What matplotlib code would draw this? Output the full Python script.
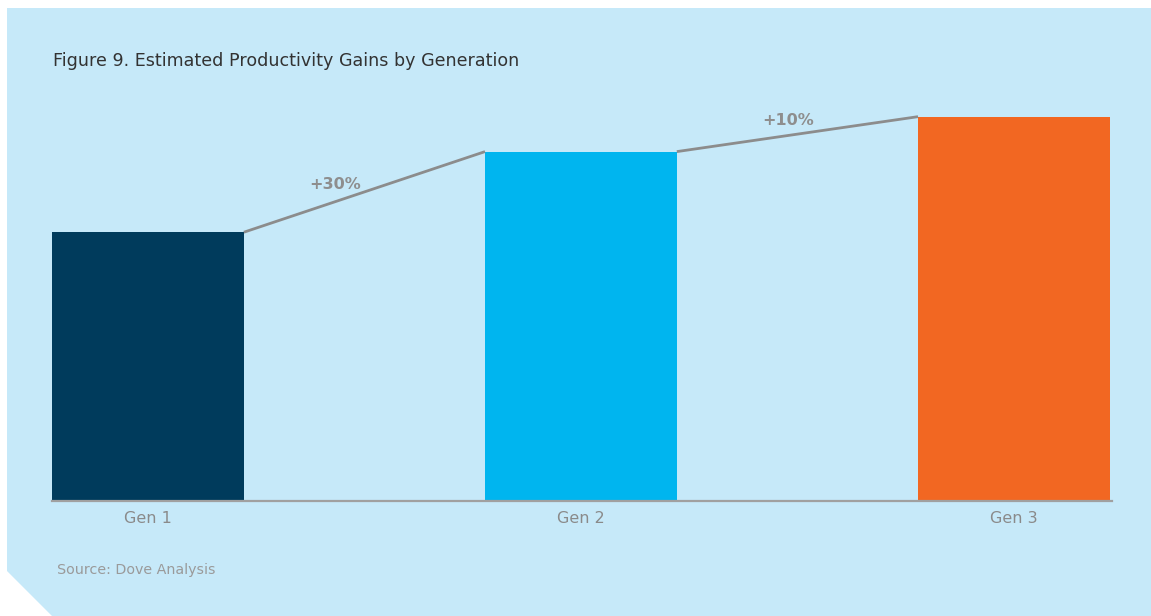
import matplotlib.pyplot as plt
from matplotlib.patches import Polygon

# Relative productivity by generation (Gen 1 = 100)
generations = ["Gen 1", "Gen 2", "Gen 3"]
productivity = [100, 130, 143]
gain_labels = ["+30%", "+10%"]
bar_colors = ["#003B5C", "#00B5EF", "#F26722"]

FONT = "DejaVu Sans"
W, H = 1151, 616
fig = plt.figure(figsize=(W / 100, H / 100), dpi=100)
fig.patch.set_facecolor("white")

# light blue panel with a clipped lower-left corner
panel_px = [(7, 8), (W, 8), (W, H), (52, H), (7, 571)]
panel = Polygon([(x / W, 1 - y / H) for x, y in panel_px], closed=True,
                transform=fig.transFigure, facecolor="#C6E9F9",
                edgecolor="none", zorder=-5)
fig.patches.append(panel)

# axes placed in pixel coordinates
left, right, top, bottom = 52, 1112, 100, 501
ax = fig.add_axes([left / W, 1 - bottom / H, (right - left) / W, (bottom - top) / H])
ax.set_facecolor("none")
ax.set_zorder(1)

width = 0.443
x = list(range(len(generations)))
ax.bar(x, productivity, width=width, color=bar_colors, zorder=2)
ax.set_xlim(-width / 2, 2 + width / 2 + 0.005)
ax.set_ylim(0, 149.2)

# connector lines between bar tops
for i in range(len(generations) - 1):
    x0, x1 = x[i] + width / 2, x[i + 1] - width / 2
    y0, y1 = productivity[i], productivity[i + 1]
    ax.plot([x0, x1], [y0, y1], color="#8C8C8C", lw=2, zorder=3,
            solid_capstyle="butt")

# gain labels above the connectors
label_t = [0.38, 0.46]
label_off = [17, 15]
for i, lab in enumerate(gain_labels):
    x0, x1 = x[i] + width / 2, x[i + 1] - width / 2
    y0, y1 = productivity[i], productivity[i + 1]
    t = label_t[i]
    ax.annotate(lab, (x0 + t * (x1 - x0), y0 + t * (y1 - y0)),
                textcoords="offset points", xytext=(0, label_off[i] * 0.72),
                ha="center", va="center", fontsize=11.5, color="#8E8E8E",
                fontweight="bold", family=FONT)

for s in ["top", "right", "left"]:
    ax.spines[s].set_visible(False)
ax.spines["bottom"].set_color("#A0A0A0")
ax.spines["bottom"].set_linewidth(1.6)
ax.set_yticks([])
ax.set_xticks(x)
ax.set_xticklabels(generations, fontsize=11.5, color="#8A8A8A", family=FONT)
ax.tick_params(axis="x", length=0, pad=7)

fig.text(53 / W, 1 - 61 / H, "Figure 9. Estimated Productivity Gains by Generation",
         fontsize=12.6, color="#333333", va="center", ha="left", family=FONT)
fig.text(57 / W, 1 - 570 / H, "Source: Dove Analysis",
         fontsize=10.3, color="#9A9A9A", va="center", ha="left", family=FONT)

fig.savefig("out.png", dpi=100, facecolor=fig.get_facecolor())
